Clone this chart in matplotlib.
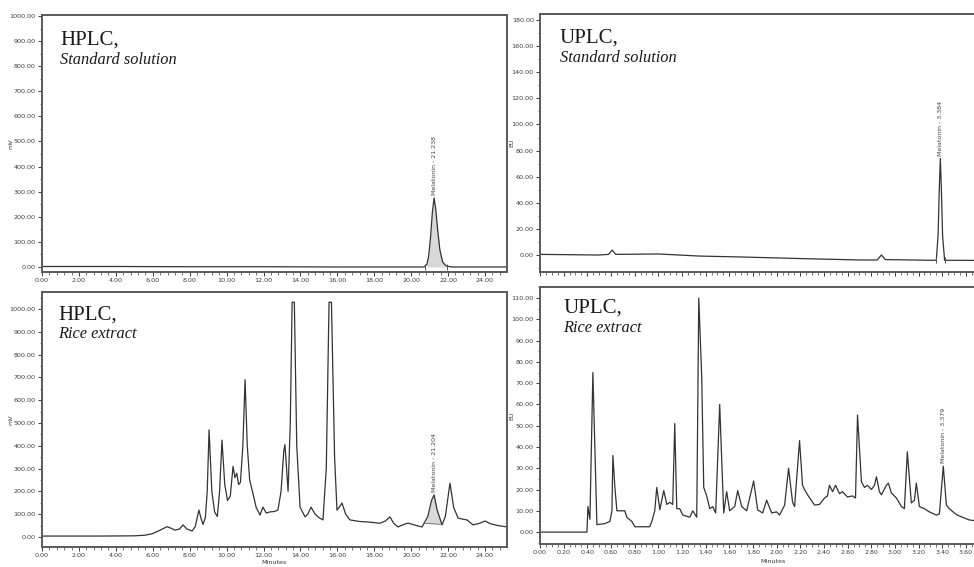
import matplotlib
matplotlib.use("Agg")
import matplotlib.pyplot as plt
from matplotlib.ticker import MultipleLocator, AutoMinorLocator, FormatStrFormatter

# ---------------- data ----------------
# HPLC, standard solution (time in min, signal in mV)
hplc_std_t = [0.0, 4.0, 8.0, 12.0, 16.0, 20.0, 20.7, 20.85, 20.95, 21.05, 21.15, 21.24,
              21.33, 21.43, 21.55, 21.7, 21.9, 22.2, 25.2]
hplc_std_v = [2, 2, 1, 1, 0, 0, 0, 10, 45, 120, 220, 275,
              230, 150, 70, 20, 4, 0, 0]
hplc_std_peak = (21.24, 275, "Melatonin - 21.238")
hplc_std_bounds = (20.75, 21.95)

# HPLC, rice extract
hplc_rice_t = [0.0, 3.0, 5.0, 5.6, 6.0, 6.4, 6.77, 7.0, 7.2, 7.45, 7.64, 7.85, 8.13, 8.3,
               8.5, 8.62, 8.72, 8.85, 8.95, 9.05, 9.2, 9.35, 9.5, 9.62, 9.75, 9.9, 10.05,
               10.2, 10.35, 10.45, 10.55, 10.65, 10.75, 10.88, 11.0, 11.12, 11.25, 11.43,
               11.6, 11.81, 11.97, 12.15, 12.35, 12.6, 12.78, 12.95, 13.1, 13.16, 13.25,
               13.33, 13.45, 13.55, 13.67, 13.8, 13.98, 14.25, 14.4, 14.57, 14.8, 15.0,
               15.22, 15.4, 15.55, 15.68, 15.85, 15.98, 16.1, 16.25, 16.45, 16.68, 17.2,
               17.77, 18.3, 18.6, 18.85, 19.05, 19.28, 19.6, 19.83, 20.2, 20.59, 20.9,
               21.1, 21.24, 21.4, 21.67, 21.85, 22.1, 22.3, 22.54, 22.8, 23.02, 23.35,
               23.7, 24.0, 24.3, 24.7, 25.2]
hplc_rice_v = [4, 4, 5, 8, 15, 30, 45, 38, 30, 35, 53, 35, 26, 45,
               118, 80, 55, 85, 200, 470, 200, 110, 90, 200, 425, 230, 160,
               180, 310, 260, 280, 230, 240, 400, 690, 400, 250, 190,
               130, 96, 131, 105, 110, 112, 118, 200, 380, 405, 300,
               200, 500, 1030, 1030, 400, 131, 88, 100, 131, 100, 85,
               75, 300, 1030, 1030, 350, 118, 130, 149, 100, 75, 68,
               65, 60, 70, 88, 60, 44, 55, 61, 52, 44, 90,
               160, 185, 120, 53, 90, 236, 130, 83, 78, 75, 53,
               60, 70, 58, 50, 44]
hplc_rice_peak = (21.24, 185, "Melatonin - 21.204")
hplc_rice_bounds = ((20.75, 60), (21.72, 55))

# UPLC, standard solution (time in min, signal in EU)
uplc_std_t = [0.0, 0.5, 0.58, 0.61, 0.64, 1.0, 1.35, 1.7, 2.2, 2.7, 2.85, 2.886, 2.92,
              3.3, 3.35, 3.365, 3.375, 3.384, 3.393, 3.403, 3.42, 3.8]
uplc_std_v = [0.5, 0.0, 0.5, 3.8, 0.5, 0.8, -0.8, -1.5, -2.7, -3.8, -3.8, 0.0, -3.5,
              -4.0, -4.0, 15, 50, 74, 50, 15, -4.0, -4.2]
uplc_std_peak = (3.384, 74, "Melatonin - 3.384")
uplc_std_bounds = (3.35, 3.425)

# UPLC, rice extract
uplc_rice_t = [0.0, 0.397, 0.405, 0.422, 0.447, 0.481, 0.549, 0.591, 0.608, 0.616, 0.633,
               0.650, 0.717, 0.734, 0.776, 0.802, 0.928, 0.945, 0.970, 0.987, 1.013, 1.046,
               1.072, 1.097, 1.122, 1.139, 1.156, 1.181, 1.207, 1.266, 1.291, 1.325, 1.342,
               1.367, 1.384, 1.409, 1.435, 1.460, 1.485, 1.519, 1.536, 1.553, 1.578, 1.603,
               1.646, 1.671, 1.705, 1.747, 1.806, 1.840, 1.882, 1.916, 1.958, 2.000, 2.025,
               2.068, 2.101, 2.135, 2.152, 2.194, 2.219, 2.236, 2.262, 2.321, 2.363, 2.405,
               2.430, 2.447, 2.473, 2.498, 2.532, 2.557, 2.599, 2.641, 2.667, 2.684, 2.717,
               2.743, 2.768, 2.802, 2.827, 2.844, 2.869, 2.886, 2.928, 2.945, 2.970, 3.013,
               3.055, 3.080, 3.105, 3.139, 3.165, 3.181, 3.207, 3.249, 3.291, 3.350, 3.376,
               3.409, 3.435, 3.460, 3.502, 3.527, 3.570, 3.629, 3.73]
uplc_rice_v = [0.0, 0.0, 12, 6, 75, 3.5, 4, 5, 10, 36, 21,
               10, 10, 7, 5, 2.5, 2.5, 5, 10, 21, 10.5, 19.5,
               13, 14, 13, 51, 11, 11, 8, 7, 10, 7, 110,
               73, 21, 17, 11, 12, 9, 60, 34, 9, 19, 10,
               12, 19.5, 12, 10, 24, 10.4, 9, 15, 9, 9.5, 8,
               12.7, 30, 14, 12, 43, 22, 20, 17.5, 12.7, 13, 16,
               17, 22, 19, 22, 18, 19, 16.5, 17, 16, 55, 23.6,
               21, 22, 20, 22, 26, 19, 17.5, 22, 23, 18.4, 16,
               12, 11, 37.7, 13.7, 15, 23, 12, 11, 9.5, 8, 8.5,
               31, 12.7, 11, 9, 8, 7, 5.7, 5]
uplc_rice_peak = (3.409, 31, "Melatonin - 3.379")

# ---------------- styling ----------------
LINE = "#333333"
SPINE = "#5a5a5a"
TICKC = "#3c3c3c"
W, H = 974, 567

fig = plt.figure(figsize=(W / 100, H / 100), dpi=100)


def box(l, t, r, b):
    return [l / W, 1 - b / H, (r - l) / W, (b - t) / H]


def style(ax, xmaj, xmin_n, ymaj, ymin_n, xlabels=True, xfmt="%.2f"):
    for s in ax.spines.values():
        s.set_color(SPINE)
        s.set_linewidth(1.4)
    ax.xaxis.set_major_locator(MultipleLocator(xmaj))
    ax.xaxis.set_minor_locator(AutoMinorLocator(xmin_n))
    ax.yaxis.set_major_locator(MultipleLocator(ymaj))
    ax.yaxis.set_minor_locator(AutoMinorLocator(ymin_n))
    ax.xaxis.set_major_formatter(FormatStrFormatter(xfmt))
    ax.yaxis.set_major_formatter(FormatStrFormatter("%.2f"))
    ax.tick_params(axis="both", which="major", length=3, width=0.7, colors=TICKC,
                   labelsize=4.6, pad=1.5)
    ax.tick_params(axis="both", which="minor", length=1.8, width=0.5, colors=TICKC)
    if not xlabels:
        ax.tick_params(axis="x", which="both", labelbottom=False)
    ax.patch.set_facecolor("white")


def peak_label(ax, peak):
    t, v, txt = peak
    ax.annotate(txt, xy=(t, v), xytext=(0, 2), textcoords="offset points",
                rotation=90, ha="center", va="bottom", fontsize=4.5, color="#444444")


def titles(x, y_top, line1, line2):
    fig.text(x / W, 1 - y_top / H, line1, family="Liberation Serif", fontsize=15,
             color="#1a1a1a", va="baseline", ha="left")
    fig.text(x / W, 1 - (y_top + 18.5) / H, line2, family="Liberation Serif",
             style="italic", fontsize=11.8, color="#1a1a1a", va="baseline", ha="left")


# ---- HPLC standard ----
ax1 = fig.add_axes(box(42, 15, 507, 272))
ax1.plot(hplc_std_t, hplc_std_v, color=LINE, lw=0.9)
sel = [i for i, t in enumerate(hplc_std_t) if hplc_std_bounds[0] <= t <= hplc_std_bounds[1]]
ax1.fill_between([hplc_std_t[i] for i in sel], [hplc_std_v[i] for i in sel], 0,
                 color="#d9d9d9", lw=0)
ax1.plot(hplc_std_bounds, [0, 0], ls="none", marker="|", ms=5, mew=0.7, color="#555555")
ax1.set_xlim(0, 25.19)
ax1.set_ylim(-20, 1004)
style(ax1, 2, 5, 100, 2)
ax1.set_ylabel("mV", fontsize=4.6, color=TICKC)
ax1.yaxis.set_label_coords(-0.062, 0.5)
peak_label(ax1, hplc_std_peak)

# ---- HPLC rice ----
ax2 = fig.add_axes(box(42, 292, 507, 547))
ax2.plot(hplc_rice_t, hplc_rice_v, color=LINE, lw=0.9)
(t0, v0), (t1, v1) = hplc_rice_bounds
sel = [i for i, t in enumerate(hplc_rice_t) if t0 <= t <= t1]
ts = [t0] + [hplc_rice_t[i] for i in sel] + [t1]
vs = [v0] + [hplc_rice_v[i] for i in sel] + [v1]
base = [v0 + (v1 - v0) * (t - t0) / (t1 - t0) for t in ts]
ax2.fill_between(ts, vs, base, color="#d9d9d9", lw=0)
ax2.plot([t0, t1], [v0, v1], color="#666666", lw=0.6)
ax2.set_xlim(0, 25.19)
ax2.set_ylim(-44, 1075)
style(ax2, 2, 5, 100, 2)
ax2.set_ylabel("mV", fontsize=4.6, color=TICKC)
ax2.yaxis.set_label_coords(-0.062, 0.5)
ax2.set_xlabel("Minutes", fontsize=4.6, color=TICKC, labelpad=1.5)
peak_label(ax2, hplc_rice_peak)

# ---- UPLC standard ----
ax3 = fig.add_axes(box(540, 14, 986, 272))
ax3.plot(uplc_std_t, uplc_std_v, color=LINE, lw=0.9)
ax3.plot(uplc_std_bounds, [-4, -4], ls="none", marker="|", ms=5, mew=0.7, color="#555555")
ax3.set_xlim(0, 3.77)
ax3.set_ylim(-13, 184.6)
style(ax3, 0.2, 4, 20, 2, xlabels=False)
ax3.set_ylabel("EU", fontsize=4.6, color=TICKC)
ax3.yaxis.set_label_coords(-0.058, 0.5)
peak_label(ax3, uplc_std_peak)

# ---- UPLC rice ----
ax4 = fig.add_axes(box(540, 287, 986, 544))
ax4.plot(uplc_rice_t, uplc_rice_v, color=LINE, lw=0.9)
ax4.set_xlim(0, 3.77)
ax4.set_ylim(-5.6, 115.2)
style(ax4, 0.2, 4, 10, 2)
ax4.set_ylabel("EU", fontsize=4.6, color=TICKC)
ax4.yaxis.set_label_coords(-0.058, 0.5)
ax4.set_xlabel("Minutes", fontsize=4.6, color=TICKC, labelpad=1.5)
ax4.xaxis.set_label_coords((773 - 540) / 446, -0.06)
peak_label(ax4, uplc_rice_peak)

# panel headings
titles(60, 45, "HPLC,", "Standard solution")
titles(560, 43, "UPLC,", "Standard solution")
titles(58, 320, "HPLC,", "Rice extract")
titles(563, 313, "UPLC,", "Rice extract")

fig.savefig("out.png", dpi=100, facecolor="white")
